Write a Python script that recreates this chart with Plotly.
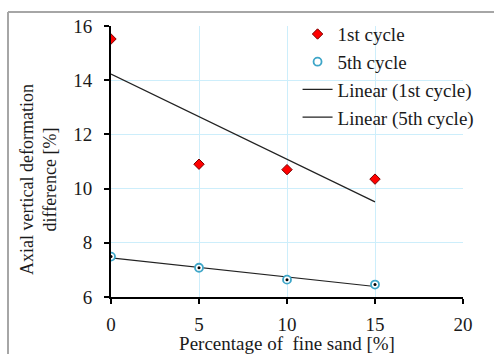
import numpy as np
import plotly.graph_objects as go

fine_sand = [0, 5, 10, 15]
cycle1 = [15.52, 10.9, 10.7, 10.35]
cycle5 = [7.49, 7.08, 6.64, 6.46]
x_ticks = [0, 5, 10, 15, 20]
y_ticks = [6, 8, 10, 12, 14, 16]

FONT = "Liberation Serif"
GRID = "#cdeefb"

def trend(y):
    m, b = np.polyfit(fine_sand, y, 1)
    xs = np.array([fine_sand[0], fine_sand[-1]])
    return xs, m * xs + b

fig = go.Figure()
tx1, ty1 = trend(cycle1)
tx5, ty5 = trend(cycle5)
fig.add_trace(go.Scatter(x=tx1, y=ty1, mode="lines", name="Linear (1st cycle)",
                         legendrank=3, line=dict(color="#222222", width=1.2)))
fig.add_trace(go.Scatter(x=tx5, y=ty5, mode="lines", name="Linear (5th cycle)",
                         legendrank=4, line=dict(color="#222222", width=1.2)))
fig.add_trace(go.Scatter(x=fine_sand, y=cycle1, mode="markers", name="1st cycle",
                         legendrank=1,
                         marker=dict(symbol="diamond", size=8, color="#ff0000",
                                     line=dict(color="#7a0000", width=1))))
fig.add_trace(go.Scatter(x=fine_sand, y=cycle5, mode="markers", name="5th cycle",
                         legendrank=2,
                         marker=dict(symbol="circle", size=8, color="#ffffff",
                                     line=dict(color="#3fa6c8", width=1.8))))
fig.add_trace(go.Scatter(x=fine_sand, y=cycle5, mode="markers", showlegend=False,
                         hoverinfo="skip",
                         marker=dict(symbol="circle", size=3, color="#000000")))

fig.update_layout(
    width=494, height=354,
    margin=dict(l=111, r=31, t=26, b=57),
    paper_bgcolor="white", plot_bgcolor="white",
    font=dict(family=FONT, size=18, color="#1a1a1a"),
    legend=dict(x=0.53, y=1.04, xanchor="left", yanchor="top",
                bgcolor="rgba(0,0,0,0)", font=dict(family=FONT, size=19),
                traceorder="normal", tracegroupgap=0),
    showlegend=True,
    shapes=[
        dict(type="line", xref="paper", yref="paper", x0=-0.2926, x1=-0.2926,
             y0=1.0517, y1=-0.3, line=dict(color="#a6a6a6", width=2)),
        dict(type="line", xref="paper", yref="paper", x0=-0.2926, x1=1.2,
             y0=1.0517, y1=1.0517, line=dict(color="#a6a6a6", width=2)),
    ],
    annotations=[
        dict(text="Axial vertical deformation<br>difference [%]",
             xref="paper", yref="paper", x=-0.2045, y=0.432,
             xanchor="center", yanchor="middle", textangle=-90,
             showarrow=False, font=dict(family=FONT, size=18)),
    ],
)
fig.update_xaxes(range=[0, 20], tickvals=x_ticks, showgrid=True, gridcolor=GRID,
                 gridwidth=1, showline=True, linecolor="black", linewidth=2,
                 ticks="outside", ticklen=5, tickwidth=2, tickcolor="black",
                 zeroline=False, tickfont=dict(family=FONT, size=19),
                 ticklabelstandoff=4, automargin=False,
                 title=dict(text="Percentage of  fine sand [%]", standoff=4,
                            font=dict(family=FONT, size=19)))
fig.update_yaxes(range=[6, 16], tickvals=y_ticks, showgrid=True, gridcolor=GRID,
                 gridwidth=1, showline=True, linecolor="black", linewidth=2,
                 ticks="outside", ticklen=5, tickwidth=2, tickcolor="black",
                 zeroline=False, tickfont=dict(family=FONT, size=19),
                 ticklabelstandoff=8, automargin=False)

fig.write_html("out.html")
